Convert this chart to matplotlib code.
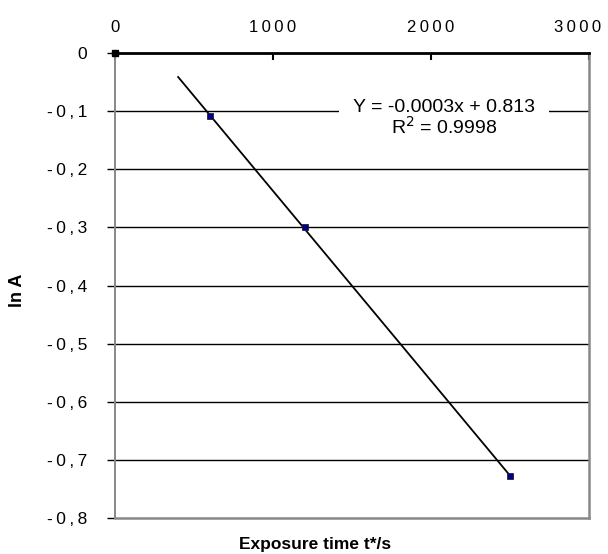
import matplotlib.pyplot as plt
import matplotlib.transforms as mtransforms
import numpy as np

plt.rcParams['font.family'] = ['Liberation Sans', 'DejaVu Sans']

time_s = [0, 600, 1200, 2500]
lnA = [0.0, -0.108, -0.300, -0.728]

x_ticks = [0, 1000, 2000, 3000]
y_ticks = [0, -0.1, -0.2, -0.3, -0.4, -0.5, -0.6, -0.7, -0.8]

equation = "Y = -0.0003x + 0.813\nR$^2$ = 0.9998"

def spaced(s):
    # excel-ish wide letter spacing on the tick labels
    return "\u2009".join(s)

fig = plt.figure(figsize=(6.08, 5.54), dpi=100)
ax = fig.add_axes([0.189, 0.065, 0.78, 0.839])

# linear fit over the measured points (the zero point is left out)
k, b = np.polyfit(time_s[1:], lnA[1:], 1)
xfit = np.array([400, time_s[-1]])
ax.plot(xfit, k * xfit + b, color="black", lw=1.3, zorder=3)

ax.plot(time_s[1:], lnA[1:], "s", color="#000080", markersize=4.5,
        markeredgecolor="#202040", markeredgewidth=0.6, zorder=4)
ax.plot(time_s[:1], lnA[:1], "s", color="black", markersize=5, zorder=5,
        clip_on=False)

ax.set_xlim(0, 3000)
ax.set_ylim(-0.8, 0)
ax.xaxis.tick_top()
ax.set_xticks(x_ticks)
ax.set_xticklabels([spaced(str(v)) for v in x_ticks], fontsize=12)
ax.set_yticks(y_ticks)
ax.set_yticklabels([spaced(("%g" % v).replace(".", ",")) for v in y_ticks], fontsize=12.5)
ax.tick_params(axis="x", direction="in", length=5, width=1.5, pad=13)
ax.tick_params(axis="y", direction="out", length=6, width=1, pad=14)

# last top label is pulled in so it stays inside the figure
last = ax.get_xticklabels()[-1]
last.set_transform(last.get_transform() +
                   mtransforms.ScaledTranslation(-12 / 100, 0, fig.dpi_scale_trans))

for yv in y_ticks[1:-1]:
    ax.axhline(yv, color="black", lw=1, zorder=1)

ax.spines["top"].set_color("black")
ax.spines["top"].set_linewidth(2)
for s in ["left", "right", "bottom"]:
    ax.spines[s].set_color("#888888")
    ax.spines[s].set_linewidth(1.8)
ax.spines["left"].set_linewidth(1.4)

ax.text(2082, -0.112, equation, ha="center", va="center", fontsize=14,
        linespacing=1.0, zorder=6,
        bbox=dict(facecolor="white", edgecolor="none", pad=10))

fig.text(0.028, 0.476, "ln A", rotation=90, ha="center", va="center",
         fontsize=13, fontweight="bold")
fig.text(0.518, 0.017, "Exposure time t*/s", ha="center", va="center",
         fontsize=12.5, fontweight="bold")

fig.savefig("out.png", dpi=100)
